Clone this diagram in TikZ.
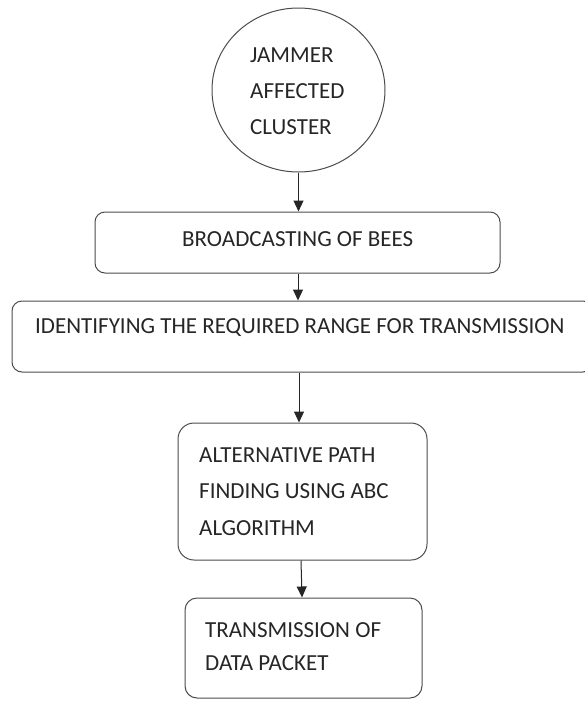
\documentclass[tikz,border=0pt]{standalone}
\usepackage{fontspec}
\setmainfont{Carlito}
\usetikzlibrary{shapes.geometric, arrows.meta}

\tikzset{
    flowbox/.style={draw=black!70, line width=1pt, rounded corners=10pt, inner sep=0pt},
    flowtext/.style={anchor=west, inner sep=0pt, align=left, text=black!85},
    flowarrow/.style={draw=black!85, line width=1pt, -{Triangle[length=11pt, width=10pt]}}
}

\begin{document}
\begin{tikzpicture}[x=1pt, y=-1pt, every node/.style={font=\fontsize{23}{36.5}\selectfont}]
    \useasboundingbox (0,0) rectangle (585,702);

    % start of the chain
    \node[ellipse, draw=black!70, line width=1pt, minimum width=173pt, minimum height=164pt, inner sep=0pt] (jammer) at (298.5,90) {};
    \node[flowtext, font=\fontsize{23}{36}\selectfont] (jammertext) at (250,91) {JAMMER\\AFFECTED\\CLUSTER};

    % steps
    \node[flowbox, minimum width=405pt, minimum height=61pt] (bees) at (297.5,242.5) {};
    \node[flowtext] (beestext) at (182,239) {BROADCASTING OF BEES};

    \node[flowbox, minimum width=581pt, minimum height=71pt] (range) at (302.5,336.5) {};
    \node[flowtext] (rangetext) at (35,327.5) {IDENTIFYING THE REQUIRED RANGE FOR TRANSMISSION};

    \node[flowbox, rounded corners=16pt, minimum width=249pt, minimum height=137pt] (abc) at (302.5,491.5) {};
    \node[flowtext] (abctext) at (199,491.5) {ALTERNATIVE PATH\\FINDING USING ABC\\ALGORITHM};

    \node[flowbox, rounded corners=12pt, minimum width=237pt, minimum height=100pt] (packet) at (303.5,648) {};
    \node[flowtext, font=\fontsize{23}{33}\selectfont] (packettext) at (205,646.5) {TRANSMISSION OF\\DATA PACKET};

    % connectors
    \draw[flowarrow] (jammer.south) -- (jammer.south |- bees.north);
    \draw[flowarrow] (bees.south -| 298,0) -- (298,0 |- range.north);
    \draw[flowarrow] (range.south -| 299,0) -- (299,0 |- abc.north);
    \draw[flowarrow] (abc.south -| 301,0) -- (302,0 |- packet.north);
\end{tikzpicture}
\end{document}
